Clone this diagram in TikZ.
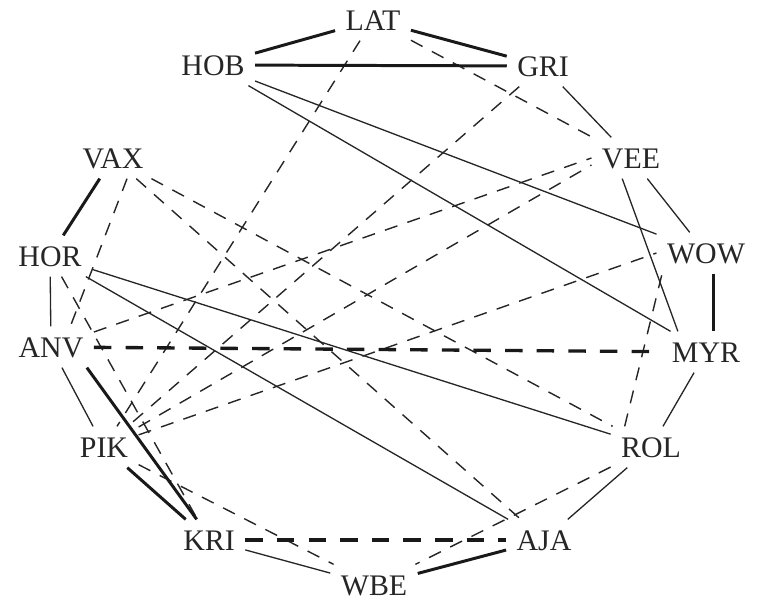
\documentclass[tikz,border=0pt]{standalone}
\usepackage{fontspec}
\setmainfont{Liberation Serif}

\begin{document}
\begin{tikzpicture}[x=0.02cm, y=-0.02cm,
    country/.style={inner sep=4pt, outer sep=2pt, text height=11.5pt, text depth=0pt,
        font=\fontsize{17}{20}\selectfont, text=black!85},
    ally/.style={black!85, line width=0.75pt},
    strongally/.style={black!90, line width=1.7pt},
    enemy/.style={black!85, line width=0.8pt, dash pattern=on 7.5pt off 6pt},
    strongenemy/.style={black!90, line width=1.9pt, dash pattern=on 10pt off 8pt}]
    % Frame in pixels of the 759 x 601 page, y runs downwards
    \useasboundingbox (0,0) rectangle (759,601);

    % Countries round the ring, clockwise from the top
    \node[country] (LAT) at (373, 20) {LAT};
    \node[country] (GRI) at (543, 66) {GRI};
    \node[country] (VEE) at (631,158) {VEE};
    \node[country] (WOW) at (706,253) {WOW};
    \node[country] (MYR) at (706,352) {MYR};
    \node[country] (ROL) at (651,447) {ROL};
    \node[country] (AJA) at (544,540) {AJA};
    \node[country] (WBE) at (374,585) {WBE};
    \node[country] (KRI) at (209,540) {KRI};
    \node[country] (PIK) at (104,447) {PIK};
    \node[country] (ANV) at ( 51,347) {ANV};
    \node[country] (HOR) at ( 50,256) {HOR};
    \node[country] (VAX) at (113,158) {VAX};
    \node[country] (HOB) at (213, 65) {HOB};

    % Hostile ties (dashed)
    \foreach \a/\b in {LAT/PIK, LAT/VEE, GRI/PIK, VAX/ROL, VAX/AJA, HOR/KRI,
                       PIK/WBE, ROL/WBE}
        \draw[enemy] (\a) -- (\b);
    \draw[enemy] ([xshift=8pt]VAX.south) -- ([xshift=11pt]ANV.north);
    \draw[enemy] (ANV) -- (VEE.west);
    \draw[enemy] (PIK) -- ([yshift=-4pt]VEE.west);
    \draw[enemy] (PIK) -- (WOW.west);
    \draw[enemy] ([xshift=-15pt]ROL.north) -- ([xshift=-25pt]WOW.south);
    \foreach \a/\b in {ANV/MYR, KRI/AJA}
        \draw[strongenemy] (\a) -- (\b);

    % Friendly ties (solid)
    \foreach \a/\b in {GRI/VEE, VEE/WOW, HOB/WOW, HOB/MYR, HOR/ANV,
                       HOR/ROL, HOR/AJA, ANV/PIK, MYR/ROL, ROL/AJA, KRI/WBE}
        \draw[ally] (\a) -- (\b);
    \draw[ally] ([xshift=-5pt]VEE.south) -- ([xshift=-16pt]MYR.north);
    \foreach \a/\b in {HOB/LAT, LAT/GRI, HOB/GRI, VAX/HOR, PIK/KRI, WBE/AJA}
        \draw[strongally] (\a) -- (\b);
    \draw[strongally] ([xshift=4pt]WOW.south) -- ([xshift=4pt]MYR.north);
    \draw[strongally] ([xshift=-4pt]ANV.south east) -- ([xshift=-7pt]KRI.north);

\end{tikzpicture}
\end{document}
